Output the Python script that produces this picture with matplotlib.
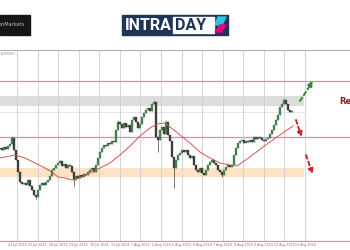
import matplotlib
matplotlib.use("Agg")
import matplotlib.pyplot as plt
from matplotlib.patches import Rectangle, Polygon

# closes, one candle every 2 px of the original (levels)
closes = [102, 100, 103, 101, 104, 106, 112, 100, 90, 78, 68, 66, 67, 65, 70, 64, 60, 55, 53, 60,
          65, 67, 65, 68, 70, 74, 80, 82, 85, 87, 89, 84, 86, 82, 85, 84, 78, 70, 74, 72,
          75, 73, 76, 75, 78, 80, 82, 78, 85, 92, 98, 102, 105, 104, 107, 106, 109, 108, 120, 128,
          126, 122, 127, 123, 125, 118, 130, 133, 128, 122, 126, 133, 137, 140, 142, 139, 146, 148, 113, 110,
          120, 123, 116, 128, 115, 109, 93, 82, 90, 95, 97, 100, 98, 100, 95, 92, 94, 85, 80, 78,
          82, 77, 75, 80, 85, 88, 90, 87, 85, 80, 78, 75, 80, 83, 85, 83, 85, 95, 102, 107,
          109, 110, 107, 109, 108, 110, 108, 113, 111, 113, 112, 110, 109, 111, 112, 116, 120, 125, 130, 135,
          143, 146, 150, 146, 140, 138, 139]
first_open = 101
wick_highs = {6: 114, 30: 90, 59: 130, 77: 150, 83: 130, 142: 152}
wick_lows = {18: 51, 37: 64, 79: 98, 87: 62, 111: 73}

# moving average (candle index, level)
ma_x = [0, 7.5, 12.5, 17.5, 22.5, 26, 29, 32.5, 36, 40, 45, 50, 55, 60, 65, 70, 75, 78.5, 82.5, 85,
        90, 95, 100, 105, 110, 115, 118.5, 125, 131.5, 138.5, 143.5, 146.5]
ma_y = [92, 95, 92, 87, 82, 78, 73, 72, 70, 72, 77, 82, 87, 95, 104, 114, 122, 126, 127, 123,
        115, 107, 98, 92, 87, 85, 84, 93, 103, 113, 120, 124]

res_line = 169
sup_line = 113
res_zone = (144, 154)
mid_level = 138
sup_zone = (73, 82)

tick_pos = [8.5, 18.8, 29.1, 39.4, 49.6, 59.9, 70.2, 80.5, 90.8, 101.1, 111.4, 121.6, 131.9, 142.2, 152.5]
tick_lab = ["24 Jul 2024", "25 Jul 2024", "26 Jul 2024", "29 Jul 2024", "30 Jul 2024", "31 Jul 2024",
            "1 Aug 2024", "2 Aug 2024", "5 Aug 2024", "6 Aug 2024", "7 Aug 2024", "8 Aug 2024",
            "9 Aug 2024", "12 Aug 2024", "13 Aug 2024"]

# scenario arrows: (x0, y0, x1, y1, colour)
scenarios = [(150, 149, 156.5, 169, "#2e8b2e"),
             (148, 130, 150.8, 113, "#d0202a"),
             (153, 95, 156.3, 76, "#d0202a")]

fig = plt.figure(figsize=(3.5, 2.5), dpi=100)

# header / logos
bg = fig.add_axes([0, 0, 1, 1])
bg.set_xlim(0, 350)
bg.set_ylim(250, 0)
bg.axis("off")
bg.add_patch(Rectangle((0, 15), 30, 19.5, color="#161616"))
bg.text(-1, 25, "onMarkets", color="#bdbdbd", fontsize=3.6, va="center", ha="left")
bg.add_patch(Rectangle((122, 14.5), 106, 20.5, color="#1d3557"))
bg.add_patch(Rectangle((173, 17), 40.5, 15.5, color="white"))
bg.text(125, 25.2, "INTRA", color="white", fontsize=11.5, fontweight="bold",
        family=["Roboto", "DejaVu Sans"], va="center", ha="left")
bg.text(175.5, 25.2, "DAY", color="#1d3557", fontsize=11.5, fontweight="bold",
        family=["Roboto", "DejaVu Sans"], va="center", ha="left")
bg.add_patch(Polygon([(218, 17), (226, 17), (222, 25), (215, 25)], color="#2ec4e0"))
bg.add_patch(Polygon([(220, 25), (226, 25), (222, 32), (215, 32)], color="#e6007e"))

ax = fig.add_axes([0, 8 / 250, 1, 192 / 250])
ax.set_xlim(0, 175)
ax.set_ylim(8, 200)
ax.set_facecolor("none")

# zones and levels
ax.fill_between([0, 152], res_zone[0], res_zone[1], color="#dcdcdc", lw=0, zorder=1)
ax.fill_between([0, 152], sup_zone[0], sup_zone[1], color="#fde2c4", lw=0, zorder=1)
ax.axhline(mid_level, xmax=152 / 175, color="#e2e2e2", lw=0.6, zorder=1)
ax.axhline(res_line, color="#bf94d4", lw=0.9, zorder=2)
ax.axhline(sup_line, color="#bf94d4", lw=0.9, zorder=2)
ax.axhline(9, color="#bf94d4", lw=0.9, zorder=2)

# candles
opens = [first_open] + closes[:-1]
for i, (o, c) in enumerate(zip(opens, closes)):
    col = "#4a7d50" if c >= o else "#3d3d3d"
    hi = wick_highs.get(i, max(o, c))
    lo = wick_lows.get(i, min(o, c))
    ax.vlines(i, lo, hi, color=col, lw=0.5, zorder=3)
    ax.bar(i, abs(c - o), bottom=min(o, c), width=0.7, color=col, edgecolor=col, lw=0.25, zorder=3)

ax.plot(ma_x, ma_y, color="#d9534f", lw=0.7, zorder=4)

for x0, y0, x1, y1, col in scenarios:
    ax.annotate("", xy=(x1, y1), xytext=(x0, y0),
                arrowprops=dict(arrowstyle="-|>", color=col, lw=1.4, ls=(0, (2, 1.6)),
                                mutation_scale=7, shrinkA=0, shrinkB=0), zorder=5)

ax.text(169.5, 149, "Resistance", color="#8b1a1a", fontsize=6, fontweight="bold",
        va="center", ha="left")

ax.set_xticks(tick_pos)
ax.set_xticklabels(tick_lab, fontsize=2.3, color="#777777")
ax.tick_params(axis="x", length=0, pad=1)
ax.set_yticks([])
ax.grid(axis="x", color="#cfcfcf", lw=0.6, zorder=0)
for s in ["left", "right", "bottom"]:
    ax.spines[s].set_visible(False)
ax.spines["top"].set_color("#9a9a9a")
ax.spines["top"].set_linewidth(0.6)
ax.text(0.5, 198, "EURUSD,H1", fontsize=1.8, color="#777777", va="top")

fig.savefig("out.png", dpi=100)
